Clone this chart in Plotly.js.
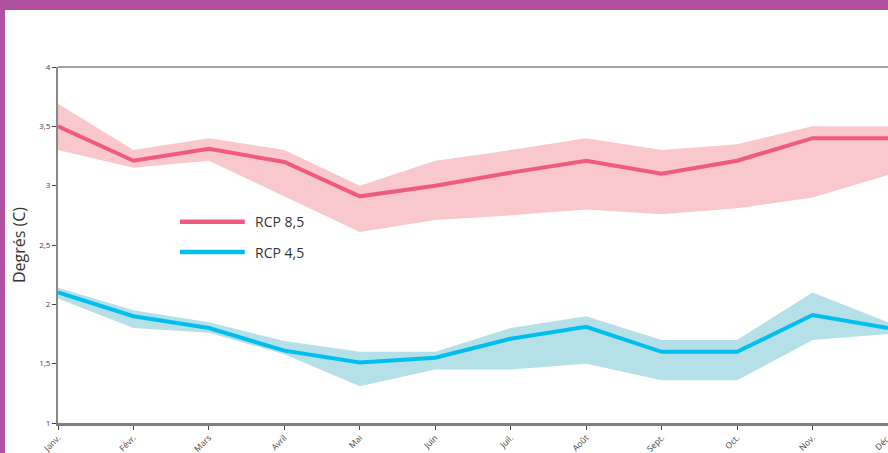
<!DOCTYPE html>
<html>
<head>
<meta charset="utf-8">
<script src="https://cdn.plot.ly/plotly-3.0.1.min.js"></script>
<style>
  html, body { margin: 0; padding: 0; width: 888px; height: 453px; overflow: hidden; background: #b052a0; }
  #chart { position: absolute; left: 5px; top: 10px; width: 883px; height: 443px; background: #ffffff; }
</style>
</head>
<body>
<div id="chart"></div>
<script>
const months = ["Janv.", "Févr.", "Mars", "Avril", "Mai", "Juin", "Juil.", "Août", "Sept.", "Oct.", "Nov.", "Déc."];

const rcp85 =      [3.50, 3.21, 3.31, 3.20, 2.91, 3.00, 3.11, 3.21, 3.10, 3.21, 3.40, 3.40];
const rcp85Upper = [3.69, 3.30, 3.40, 3.30, 3.00, 3.21, 3.30, 3.40, 3.30, 3.35, 3.50, 3.50];
const rcp85Lower = [3.30, 3.15, 3.21, 2.91, 2.61, 2.71, 2.75, 2.80, 2.76, 2.81, 2.90, 3.09];

const rcp45 =      [2.10, 1.90, 1.80, 1.61, 1.51, 1.55, 1.71, 1.81, 1.60, 1.60, 1.91, 1.80];
const rcp45Upper = [2.14, 1.95, 1.85, 1.69, 1.60, 1.60, 1.80, 1.90, 1.70, 1.70, 2.10, 1.85];
const rcp45Lower = [2.05, 1.80, 1.76, 1.58, 1.31, 1.45, 1.45, 1.50, 1.36, 1.36, 1.70, 1.75];

const yTicks = [1, 1.5, 2, 2.5, 3, 3.5, 4];
const yTickText = ["1", "1,5", "2", "2,5", "3", "3,5", "4"];

const seriesNames = ["RCP 8,5", "RCP 4,5"];
const lineColors = ["#ef5a7e", "#00bff0"];
const bandColors = ["#f9c8cc", "#b5e0e8"];

const FONT = "'Open Sans', 'DejaVu Sans', sans-serif";

function band(upper, lower, color) {
  return [
    { x: months, y: upper, type: "scatter", mode: "lines", line: { width: 0, color: color },
      showlegend: false, hoverinfo: "skip" },
    { x: months, y: lower, type: "scatter", mode: "lines", line: { width: 0, color: color },
      fill: "tonexty", fillcolor: color, showlegend: false, hoverinfo: "skip" }
  ];
}

const traces = [
  ...band(rcp85Upper, rcp85Lower, bandColors[0]),
  { x: months, y: rcp85, type: "scatter", mode: "lines", name: seriesNames[0],
    line: { color: lineColors[0], width: 4 }, showlegend: false },
  ...band(rcp45Upper, rcp45Lower, bandColors[1]),
  { x: months, y: rcp45, type: "scatter", mode: "lines", name: seriesNames[1],
    line: { color: lineColors[1], width: 4 }, showlegend: false }
];

const legendY = [0.565, 0.480];

const layout = {
  width: 883, height: 443,
  margin: { l: 53, r: 0, t: 57, b: 30 },
  paper_bgcolor: "#ffffff",
  plot_bgcolor: "#ffffff",
  showlegend: false,
  font: { family: FONT, color: "#333333" },
  xaxis: {
    type: "category",
    range: [0, 11],
    showgrid: false, zeroline: false,
    showline: true, linecolor: "#808080", linewidth: 2.5,
    ticks: "outside", ticklen: 4, tickcolor: "#444444", tickwidth: 1,
    tickangle: -45,
    tickfont: { size: 8.5, color: "#444444", family: FONT },
    automargin: false
  },
  yaxis: {
    range: [1, 4],
    tickvals: yTicks, ticktext: yTickText,
    showgrid: false, zeroline: false,
    showline: true, linecolor: "#888888", linewidth: 2,
    ticks: "outside", ticklen: 4, tickcolor: "#444444", tickwidth: 1,
    tickfont: { size: 8, color: "#444444", family: FONT },
    title: { text: "Degrés (C)", font: { size: 16, color: "#333333", family: FONT }, standoff: 10 },
    automargin: false
  },
  shapes: [
    { type: "line", xref: "paper", yref: "paper", x0: 0, x1: 1, y0: 1, y1: 1,
      line: { color: "#9ea29e", width: 2 } },
    { type: "line", xref: "paper", yref: "paper", x0: 0.147, x1: 0.225, y0: legendY[0], y1: legendY[0],
      line: { color: lineColors[0], width: 4.5 } },
    { type: "line", xref: "paper", yref: "paper", x0: 0.147, x1: 0.225, y0: legendY[1], y1: legendY[1],
      line: { color: lineColors[1], width: 4.5 } }
  ],
  annotations: [
    { xref: "paper", yref: "paper", x: 0.235, y: legendY[0], xanchor: "left", yanchor: "middle",
      text: seriesNames[0], showarrow: false, font: { size: 14, color: "#333333", family: FONT } },
    { xref: "paper", yref: "paper", x: 0.235, y: legendY[1], xanchor: "left", yanchor: "middle",
      text: seriesNames[1], showarrow: false, font: { size: 14, color: "#333333", family: FONT } }
  ]
};

Plotly.newPlot("chart", traces, layout, { displayModeBar: false, staticPlot: true });
</script>
</body>
</html>
